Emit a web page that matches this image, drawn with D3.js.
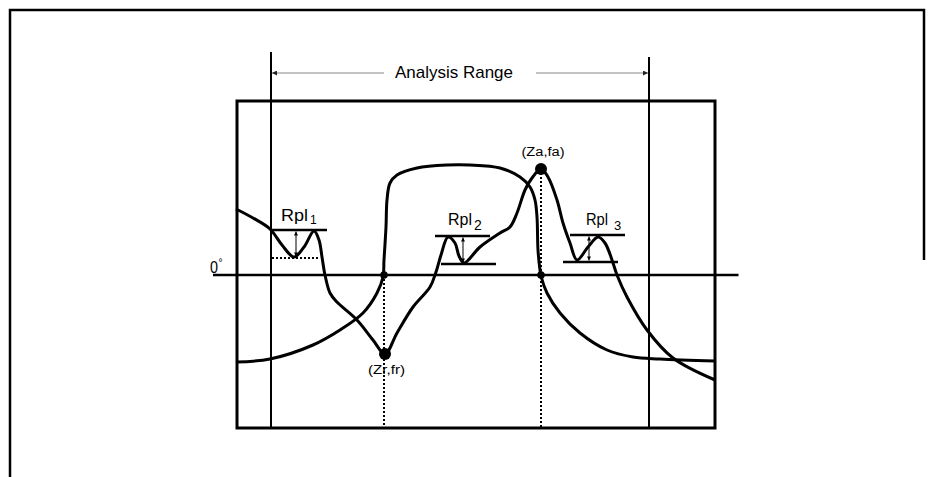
<!DOCTYPE html>
<html><head><meta charset="utf-8">
<script src="https://cdn.jsdelivr.net/npm/d3@7"></script>
<style>
body{margin:0;background:#fff}
svg{display:block}
text{font-family:"Liberation Sans",Arial,sans-serif;fill:#000}
</style>
</head><body><svg id="c" width="934" height="477"></svg>
<script>
// ---- data (frequency units along x, value units along y; 0 = 0° line) ----
const impFreq = [0,1.7,3.4,4.6,5.8,6.8,7.8,8.3,8.6,8.9,9.4,10.1,12.1,13.7,14.9,16.1,17.7,19.4,20.0,20.5,21.2,21.9,22.3,22.8,24.4,26.4,27.4,28.1,28.9,29.6,30.5,31.2,32.1,32.7,33.4,34.1,35.2,36.2,36.9,37.6,38.1,39.1,41.1,43.7,47.9];
const impVal  = [33,28.5,23,15,9,14,22,17.5,9,0,-9,-13.5,-22.5,-32.5,-39.5,-29,-16,-6,1.5,10,19,16,9.5,6,14,21,24,31,42.5,48.5,53,49,37.5,26,16,7.5,14,19,16,7.5,0,-11,-27.5,-41.5,-52.5];
const phaseFreq = [0,3.4,7.7,10.4,12.7,14.1,14.7,14.8,15.0,15.1,15.4,16.1,18.1,21.1,23.4,26.4,28.4,29.4,29.9,30.1,30.2,30.4,30.5,31.1,32.4,34.4,37.1,39.7,42.4,47.9];
const phaseVal  = [-43.5,-42,-35,-27.5,-19,-9,-1,7.5,24,37.5,46,50,53.5,55,55,53.5,49,44,37.5,29,12.5,2.5,-0.5,-9,-19,-29,-37.5,-41,-42,-43];
const zeroCross = [14.8, 30.5];
const resLabels = ["(Zr,fr)", "(Za,fa)"];
const resFreq = [14.9, 30.5];
const resVal  = [-39.5, 53];
const rangeFreq = [3.5, 41.3];
const rangeLabel = "Analysis Range";
const rplNames = ["1", "2", "3"];
const rplTopFrom = [3.6, 19.9, 33.4];
const rplTopTo   = [9.1, 25.4, 38.9];
const rplTopVal  = [22.5, 19.5, 20];
const rplBotFrom = [3.6, 20.5, 32.7];
const rplBotTo   = [8.4, 26.0, 38.2];
const rplBotVal  = [8.5, 5.5, 6.5];
const rplArrowAt = [6.0, 22.7, 35.3];
const rplLabelAt = [4.5, 21.2, 35.0];
const zeroLabel = "0";

// ---- layout ----
const svg = d3.select("#c");
const box = {l:237, r:715, t:101, b:428};
const x = d3.scaleLinear().domain([0, 48]).range([236, 716]);
const y = d3.scaleLinear().domain([-76.5, 87]).range([428, 101]);

const defs = svg.append("defs");
defs.append("marker").attr("id","arr").attr("viewBox","0 0 10 10").attr("refX",10).attr("refY",5)
  .attr("markerWidth",6).attr("markerHeight",5).attr("markerUnits","userSpaceOnUse").attr("orient","auto-start-reverse")
  .append("path").attr("d","M0,0 L10,5 L0,10 Z").attr("fill","#222");
defs.append("marker").attr("id","sarr").attr("viewBox","0 0 10 10").attr("refX",10).attr("refY",5)
  .attr("markerWidth",5).attr("markerHeight",4).attr("markerUnits","userSpaceOnUse").attr("orient","auto-start-reverse")
  .append("path").attr("d","M0,0 L10,5 L0,10 Z").attr("fill","#000");

// outer frame
svg.append("path").attr("d","M10,480 L10,10 L924,10 L924,260")
  .attr("fill","none").attr("stroke","#000").attr("stroke-width",2.5);

// inner plot box
svg.append("rect").attr("x",box.l).attr("y",box.t).attr("width",box.r-box.l).attr("height",box.b-box.t)
  .attr("fill","none").attr("stroke","#000").attr("stroke-width",3);

// analysis range lines
const rangeTops = [52, 57];
svg.selectAll("line.rng").data(rangeFreq).join("line").attr("class","rng")
  .attr("x1",d=>x(d)).attr("x2",d=>x(d)).attr("y1",(d,i)=>rangeTops[i]).attr("y2",box.b)
  .attr("stroke","#000").attr("stroke-width",2);
const arrowY = 73;
const labelX = 454;
svg.append("line").attr("x1",x(rangeFreq[0])+1).attr("x2",384).attr("y1",arrowY).attr("y2",arrowY)
  .attr("stroke","#888").attr("stroke-width",1.2).attr("marker-start","url(#arr)");
svg.append("line").attr("x1",536).attr("x2",x(rangeFreq[1])-1).attr("y1",arrowY).attr("y2",arrowY)
  .attr("stroke","#888").attr("stroke-width",1.2).attr("marker-end","url(#arr)");
svg.append("text").attr("x",labelX).attr("y",78).attr("text-anchor","middle")
  .attr("font-size",17).attr("textLength",118).attr("lengthAdjust","spacingAndGlyphs").text(rangeLabel);

// zero line
svg.append("line").attr("x1",x(-2.3)).attr("x2",x(50.25)).attr("y1",y(0)).attr("y2",y(0))
  .attr("stroke","#000").attr("stroke-width",2.5);
svg.append("text").attr("x",218).attr("y",273).attr("text-anchor","end").attr("font-size",17)
  .attr("textLength",8).attr("lengthAdjust","spacingAndGlyphs").text(zeroLabel);
svg.append("text").attr("x",218.5).attr("y",266).attr("font-size",10).text("°");

// dotted verticals at zero crossings down to the box bottom
svg.selectAll("line.zc").data(zeroCross).join("line").attr("class","zc")
  .attr("x1",d=>x(d)).attr("x2",d=>x(d))
  .attr("y1",(d,i)=> i===0 ? y(0) : y(resVal[1])).attr("y2",box.b)
  .attr("stroke","#000").attr("stroke-width",2).attr("stroke-dasharray","2,2");

// ripple markers
rplNames.forEach((n,i)=>{
  svg.append("line").attr("x1",x(rplTopFrom[i])).attr("x2",x(rplTopTo[i])).attr("y1",y(rplTopVal[i])).attr("y2",y(rplTopVal[i]))
    .attr("stroke","#000").attr("stroke-width",2.5);
  svg.append("line").attr("x1",x(rplBotFrom[i])).attr("x2",x(rplBotTo[i])).attr("y1",y(rplBotVal[i])).attr("y2",y(rplBotVal[i]))
    .attr("stroke","#000").attr("stroke-width", i===0 ? 2 : 2.5).attr("stroke-dasharray", i===0 ? "2,2" : null);
  svg.append("line").attr("x1",x(rplArrowAt[i])).attr("x2",x(rplArrowAt[i]))
    .attr("y1",y(rplTopVal[i])+1.5).attr("y2",y(rplBotVal[i])-1.5)
    .attr("stroke","#000").attr("stroke-width",1)
    .attr("marker-start","url(#sarr)").attr("marker-end","url(#sarr)");
});
const rplBase = [221, 225, 225];
const rplSubBase = [224, 230, 230];
const rplLen = [27, 24, 22];
const rplSubX = [310, 474, 614];
const rplSubSize = [12, 14, 13];
rplNames.forEach((n,i)=>{
  svg.append("text").attr("x",x(rplLabelAt[i])).attr("y",rplBase[i]).attr("font-size",16)
    .attr("textLength",rplLen[i]).attr("lengthAdjust","spacingAndGlyphs").text("Rpl");
  svg.append("text").attr("x",rplSubX[i]).attr("y",rplSubBase[i]).attr("font-size",rplSubSize[i]).text(n);
});

// curves
const line = d3.line().x(d=>x(d[0])).y(d=>y(d[1])).curve(d3.curveCatmullRom.alpha(0.5));
const imp = impFreq.map((f,i)=>[f, impVal[i]]);
const phase = phaseFreq.map((f,i)=>[f, phaseVal[i]]);
svg.append("path").attr("d",line(phase)).attr("fill","none").attr("stroke","#000").attr("stroke-width",3).attr("stroke-linejoin","round");
svg.append("path").attr("d",line(imp)).attr("fill","none").attr("stroke","#000").attr("stroke-width",3).attr("stroke-linejoin","round");

// points
svg.selectAll("circle.zc").data(zeroCross).join("circle").attr("class","zc")
  .attr("cx",d=>x(d)).attr("cy",y(0)).attr("r",3.8).attr("fill","#000");
svg.selectAll("circle.res").data(resFreq).join("circle").attr("class","res")
  .attr("cx",d=>x(d)).attr("cy",(d,i)=>y(resVal[i])).attr("r",6).attr("fill","#000");
const resLabelY = [374, 156];
const resLabelLen = [37, 43];
svg.selectAll("text.res").data(resLabels).join("text").attr("class","res")
  .attr("x",(d,i)=>x(resFreq[i])+ (i===0?1.5:2)).attr("y",(d,i)=>resLabelY[i]).attr("text-anchor","middle")
  .attr("font-size",12).attr("textLength",(d,i)=>resLabelLen[i]).attr("lengthAdjust","spacingAndGlyphs").text(d=>d);
</script>
</body></html>
